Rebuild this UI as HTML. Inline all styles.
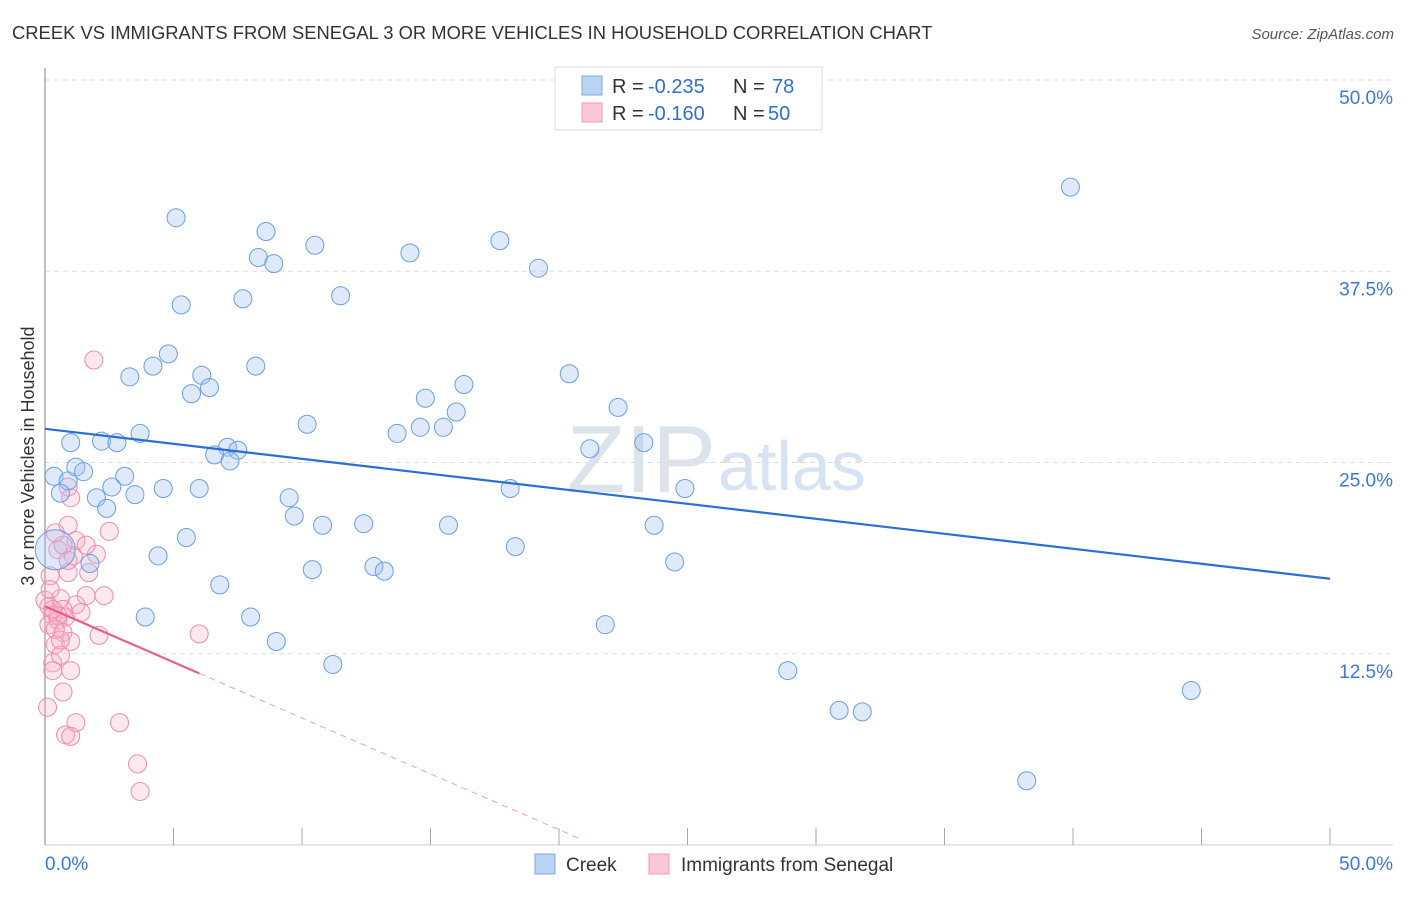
<!DOCTYPE html>
<html><head><meta charset="utf-8"><style>
body{margin:0;background:#fff;font-family:"Liberation Sans",sans-serif}
svg text{font-family:"Liberation Sans",sans-serif}
</style></head><body>
<svg id="c" width="1406" height="892">
<text x="12" y="39" font-size="18.4" fill="#333">CREEK VS IMMIGRANTS FROM SENEGAL 3 OR MORE VEHICLES IN HOUSEHOLD CORRELATION CHART</text>
<text x="1394" y="39" font-size="15" fill="#555" font-style="italic" text-anchor="end">Source: ZipAtlas.com</text>
<text x="716" y="492" font-size="96" fill="#dde3ea" text-anchor="end" font-family="Liberation Serif">ZIP</text>
<text x="718" y="490" font-size="70" fill="#d6e3f3">atlas</text>
<g id="grid"></g><g id="axes"></g><g id="pts"></g><g id="trend"></g>
<text transform="translate(34,456) rotate(-90)" font-size="18" fill="#333" text-anchor="middle">3 or more Vehicles in Household</text>
<g>
<rect x="555" y="67" width="267" height="63" fill="#fff" stroke="#ddd"/>
<rect x="582" y="76" width="20" height="19" fill="#b9d3f3" stroke="#7aa9e3"/>
<text x="612" y="93" font-size="20" fill="#333">R = </text>
<text x="648" y="93" font-size="20" fill="#2f6fd0">-0.235</text>
<text x="733" y="93" font-size="20" fill="#333">N = </text>
<text x="772" y="93" font-size="20" fill="#2f6fd0">78</text>
<rect x="582" y="103" width="20" height="19" fill="#f9c7d5" stroke="#f09ab3"/>
<text x="612" y="120" font-size="20" fill="#333">R = </text>
<text x="648" y="120" font-size="20" fill="#2f6fd0">-0.160</text>
<text x="733" y="120" font-size="20" fill="#333">N = </text>
<text x="768" y="120" font-size="20" fill="#2f6fd0">50</text>
</g>
<g>
<rect x="535" y="854" width="20" height="20" fill="#b9d3f3" stroke="#7aa9e3"/>
<text x="566" y="871" font-size="19" fill="#333">Creek</text>
<rect x="649" y="854" width="20" height="20" fill="#f9c7d5" stroke="#f09ab3"/>
<text x="681" y="871" font-size="19" fill="#333">Immigrants from Senegal</text>
</g>
</svg>
<script>
const yTicks=[12.5,25,37.5,50];
const yTickLabels=["12.5%","25.0%","37.5%","50.0%"];
const creekX=[5.1,8.6,10.5,8.3,8.9,14.2,17.7,19.2,39.9,5.3,7.7,11.5,4.8,4.2,3.3,8.2,6.1,6.4,5.7,14.8,16.3,20.4,22.3,16.0,10.2,14.6,15.5,13.7,23.3,21.2,3.7,2.2,2.8,1.0,7.1,7.5,6.6,7.2,0.35,0.9,1.2,1.5,3.1,2.6,0.6,2.0,3.5,4.6,6.0,2.4,9.5,9.7,10.8,12.4,15.7,18.1,24.9,23.7,5.5,4.4,18.3,24.5,10.4,12.8,13.2,6.8,1.75,3.9,8.0,9.0,21.8,11.2,28.9,30.9,31.8,44.6,38.2,0.4];
const creekY=[41.0,40.1,39.2,38.4,38.0,38.7,39.5,37.7,43.0,35.3,35.7,35.9,32.1,31.3,30.6,31.3,30.7,29.9,29.5,29.2,30.1,30.8,28.6,28.3,27.5,27.3,27.3,26.9,26.3,25.9,26.9,26.4,26.3,26.3,26.0,25.8,25.5,25.1,24.1,23.8,24.7,24.4,24.1,23.4,23.0,22.7,22.9,23.3,23.3,22.0,22.7,21.5,20.9,21.0,20.9,23.3,23.3,20.9,20.1,18.9,19.5,18.5,18.0,18.2,17.9,17.0,18.4,14.9,14.9,13.3,14.4,11.8,11.4,8.8,8.7,10.1,4.2,19.3];
const senX=[1.9,0.9,1.0,0.9,0.4,2.5,1.2,0.5,2.0,1.1,1.7,0.9,0.2,2.3,0.6,1.6,0.15,1.2,0.7,0.3,0.5,0.8,0.15,0.7,2.1,6.0,0.4,1.0,0.3,0.6,0.3,1.0,0.7,0.1,1.2,2.9,0.8,1.0,3.6,3.7,0.5,0.3,1.4,0.4,0.6,0.7,1.6,0.9,0,0.2];
const senY=[31.7,23.4,22.7,20.9,20.4,20.5,19.9,19.3,19.0,18.9,17.8,17.8,17.6,16.3,16.1,16.3,15.6,15.7,15.4,15.0,14.7,14.9,14.4,13.9,13.7,13.8,13.1,13.3,11.9,12.4,11.4,11.4,10.0,9.0,8.0,8.0,7.2,7.1,5.3,3.5,15.0,15.4,15.2,14.1,13.4,19.6,19.6,18.6,16.0,16.7];
const creekTrend=[27.2,17.4];
const senTrend=[15.6,-0.73];
const NS="http://www.w3.org/2000/svg";
const X=v=>45+v/50*1285, Y=v=>845-v/50*765;
function mk(p,t,a){const e=document.createElementNS(NS,t);for(const k in a)e.setAttribute(k,a[k]);document.getElementById(p).appendChild(e);return e;}
yTicks.forEach((t,i)=>{
 let l=mk('grid','line',{x1:45,x2:1393,y1:Y(t),y2:Y(t),stroke:'#ddd','stroke-dasharray':'5,4'});
 
 
 let tx=mk('grid','text',{x:1393,y:Y(t)+24,'font-size':19,fill:'#3a78d4','text-anchor':'end'});tx.textContent=yTickLabels[i];
 
 
});
let ax=mk('axes','line',{x1:45,x2:45,y1:68,y2:845,stroke:'#aaa','stroke-width':1.5});


let bx=mk('axes','line',{x1:45,x2:1393,y1:845,y2:845,stroke:'#ccc'});


for(let v=0;v<=50;v+=5){let t=mk('axes','line',{x1:X(v),x2:X(v),y1:828,y2:845,stroke:'#aaa'});
 
 }
let l0=mk('axes','text',{x:45,y:870,'font-size':19,fill:'#3a78d4'});l0.textContent='0.0%';


let l1=mk('axes','text',{x:1393,y:870,'font-size':19,fill:'#3a78d4','text-anchor':'end'});l1.textContent='50.0%';


senX.forEach((x,i)=>{let c=mk('pts','circle',{cx:X(x),cy:Y(senY[i]),r:9,fill:'rgba(248,180,200,0.3)',stroke:'#f08caa','stroke-width':1});
 
 });
creekX.forEach((x,i)=>{let big=i===creekX.length-1;let c=mk('pts','circle',{cx:X(x),cy:Y(creekY[i]),r:big?20:9,fill:'rgba(160,196,240,0.35)',stroke:'#6a9fe0','stroke-width':1});
 
 });
let bt=mk('trend','line',{x1:X(0),y1:Y(creekTrend[0]),x2:X(50),y2:Y(creekTrend[1]),stroke:'#2a6fd6','stroke-width':2.2});


const ps=x=>senTrend[0]+senTrend[1]*x;
let pt=mk('trend','line',{x1:X(0),y1:Y(ps(0)),x2:X(6),y2:Y(ps(6)),stroke:'#e8608a','stroke-width':2.2});


let pd=mk('trend','line',{x1:X(6),y1:Y(ps(6)),x2:X(20.8),y2:Y(ps(20.8)),stroke:'#f0a0b8','stroke-width':1,'stroke-dasharray':'6,5'});


</script>
</body></html>
